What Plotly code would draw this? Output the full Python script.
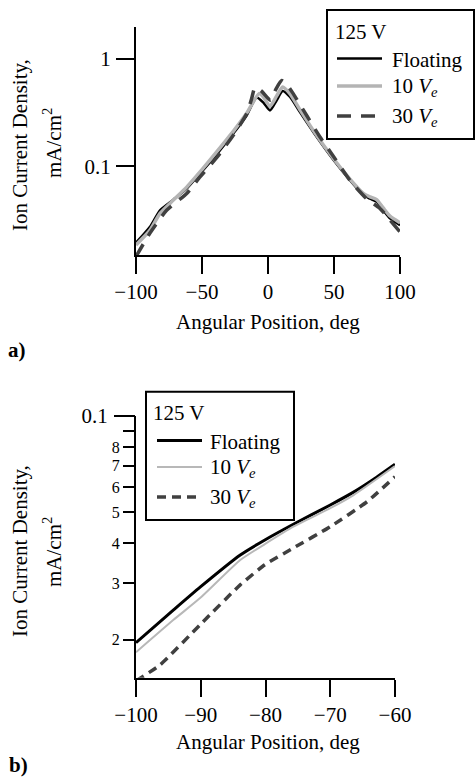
import plotly.graph_objects as go

# ---------------- data: panel a ----------------
a_float_deg = [-100, -89.4, -81.8, -71.7, -61.6, -51.5, -38.9, -26.3, -16.2, -8.6, -3.5, 1.5, 6.6, 11.1, 16.7, 24.2, 34.3, 49.5, 62.1, 72.2, 77.3, 82.3, 87.3, 92.4, 100]
a_float_val = [0.0195, 0.0274, 0.039, 0.049, 0.062, 0.0855, 0.129, 0.201, 0.296, 0.435, 0.39, 0.33, 0.41, 0.50, 0.44, 0.318, 0.208, 0.115, 0.0742, 0.054, 0.050, 0.0467, 0.039, 0.0328, 0.0284]

a_10_deg = [-100, -89.4, -81.8, -71.7, -61.6, -51.5, -38.9, -26.3, -16.2, -6.6, -3.5, 1.5, 6.6, 11.1, 16.7, 24.2, 34.3, 49.5, 62.1, 72.2, 77.3, 82.3, 87.3, 92.4, 100]
a_10_val = [0.0186, 0.0255, 0.0365, 0.0485, 0.064, 0.0885, 0.136, 0.211, 0.31, 0.475, 0.44, 0.36, 0.45, 0.545, 0.47, 0.335, 0.215, 0.118, 0.076, 0.056, 0.052, 0.049, 0.041, 0.0345, 0.0299]

a_30_deg = [-100, -89.4, -76.8, -61.6, -51.5, -38.9, -26.3, -16.2, -12.5, -9.8, -5.0, 2.0, 6.0, 10.4, 14.0, 19.2, 29.3, 39.4, 49.5, 62.1, 74.7, 84.8, 92.4, 100]
a_30_val = [0.0145, 0.024, 0.039, 0.0558, 0.0796, 0.12, 0.194, 0.307, 0.42, 0.54, 0.50, 0.41, 0.52, 0.625, 0.58, 0.47, 0.296, 0.187, 0.124, 0.074, 0.050, 0.0406, 0.0316, 0.0246]

# ---------------- data: panel b ----------------
b_float_deg = [-100, -94.2, -90.1, -83.9, -80.1, -75.7, -70, -66.4, -63.3, -60]
b_float_val = [0.0196, 0.0248, 0.0292, 0.0368, 0.041, 0.0459, 0.0527, 0.0578, 0.0634, 0.0706]

b_10_deg = [-100, -94.2, -90.1, -83.9, -80.1, -75.7, -70, -66.4, -60]
b_10_val = [0.0183, 0.0231, 0.027, 0.0355, 0.0398, 0.0451, 0.0515, 0.0566, 0.0697]

b_30_deg = [-100, -96.3, -90.1, -83.9, -80.1, -75.7, -70, -64.3, -60]
b_30_val = [0.0149, 0.0167, 0.0223, 0.0297, 0.0343, 0.0387, 0.0451, 0.054, 0.0646]

a_xticks = [-100, -50, 0, 50, 100]
a_xticktext = ["\u2212100", "\u221250", "0", "50", "100"]
a_yticks = [0.1, 1]
a_yticktext = ["0.1", "1"]
b_xticks = [-100, -90, -80, -70, -60]
b_xticktext = ["\u2212100", "\u221290", "\u221280", "\u221270", "\u221260"]
b_yticks = [0.02, 0.03, 0.04, 0.05, 0.06, 0.07, 0.08, 0.09]
b_yticktext = ["2", "3", "4", "5", "6", "7", "8", ""]
b_ytick_major = [0.1]
b_ytick_major_text = ["0.1"]
names = ["Floating", "10 <i>V<sub>e</sub></i>", "30 <i>V<sub>e</sub></i>"]
legend_title = "125 V"

FONT = "Liberation Serif"
W, H = 475, 782

A_STYLE = [dict(color="black", width=2.5),
           dict(color="#b4b4b4", width=3.5),
           dict(color="#404040", width=3.5, dash="14px,10px")]
B_STYLE = [dict(color="black", width=3),
           dict(color="#b8b8b8", width=2),
           dict(color="#404040", width=3.5, dash="9px,6px")]

fig = go.Figure()

for xs, ys, nm, st in zip([a_float_deg, a_10_deg, a_30_deg], [a_float_val, a_10_val, a_30_val], names, A_STYLE):
    fig.add_trace(go.Scatter(x=xs, y=ys, name=nm, mode="lines",
                             line=dict(shape="spline", smoothing=0.6, **st),
                             xaxis="x", yaxis="y", showlegend=False))
for xs, ys, nm, st in zip([b_float_deg, b_10_deg, b_30_deg], [b_float_val, b_10_val, b_30_val], names, B_STYLE):
    fig.add_trace(go.Scatter(x=xs, y=ys, name=nm, mode="lines",
                             line=dict(shape="spline", smoothing=0.5, **st),
                             xaxis="x2", yaxis="y2", showlegend=False))
# empty trace so the overlaid axis carrying the 0.1 tick is drawn
fig.add_trace(go.Scatter(x=[], y=[], mode="lines", xaxis="x2", yaxis="y3",
                         showlegend=False, hoverinfo="skip"))

def px_x(p):
    return p / W

def px_y(p):
    return 1 - p / H

def tf(size=21):
    return dict(family=FONT, size=size, color="black")

axis_common = dict(showline=True, linecolor="black", linewidth=2, ticks="outside",
                   tickcolor="black", tickwidth=2, showgrid=False, zeroline=False,
                   automargin=False)

B_YRANGE = [-1.817, -0.9995]

fig.update_layout(
    width=W, height=H, margin=dict(l=0, r=0, t=0, b=0, autoexpand=False),
    paper_bgcolor="white", plot_bgcolor="white",
    font=tf(), showlegend=False,
    xaxis=dict(domain=[px_x(136), px_x(400)], range=[-100, 100], tickvals=a_xticks,
               ticktext=a_xticktext, ticklen=17, anchor="y", tickfont=tf(), **axis_common),
    yaxis=dict(domain=[px_y(255), px_y(27)], type="log", range=[-1.824, 0.293],
               tickvals=a_yticks, ticktext=a_yticktext, ticklen=18, ticklabelstandoff=1,
               anchor="x", tickfont=tf(), **axis_common),
    xaxis2=dict(domain=[px_x(136), px_x(395)], range=[-100, -60], tickvals=b_xticks,
                ticktext=b_xticktext, ticklen=17, anchor="y2", tickfont=tf(), **axis_common),
    yaxis2=dict(domain=[px_y(677.7), px_y(415.7)], type="log", range=B_YRANGE,
                tickvals=b_yticks, ticktext=b_yticktext, ticklen=11, anchor="x2",
                tickfont=tf(16), **axis_common),
    yaxis3=dict(domain=[px_y(677.7), px_y(415.7)], type="log", range=B_YRANGE,
                overlaying="y2", anchor="x2", side="left", tickvals=b_ytick_major,
                ticktext=b_ytick_major_text, ticklen=21, ticklabelstandoff=2, ticks="outside",
                tickcolor="black", tickwidth=2, showticklabels=True,
                showline=False, showgrid=False, zeroline=False, automargin=False, tickfont=tf()),
)

ann = []
shapes = []

def add_text(text, x, y, angle=0, size=21, bold=False, xanchor="center"):
    ann.append(dict(text=("<b>%s</b>" % text) if bold else text, x=px_x(x), y=px_y(y),
                    xref="paper", yref="paper", showarrow=False, textangle=angle,
                    xanchor=xanchor, yanchor="middle", font=tf(size)))

def add_legend(x0, y0, x1, y1, title_xy, rows_y, line_x, text_x, styles):
    shapes.append(dict(type="rect", xref="paper", yref="paper",
                       x0=px_x(x0), x1=px_x(x1), y0=px_y(y0), y1=px_y(y1),
                       line=dict(color="black", width=2), fillcolor="white", layer="above"))
    add_text(legend_title, title_xy[0], title_xy[1], xanchor="left")
    for nm, st, ry in zip(names, styles, rows_y):
        shapes.append(dict(type="line", xref="paper", yref="paper",
                           x0=px_x(line_x[0]), x1=px_x(line_x[1]), y0=px_y(ry), y1=px_y(ry),
                           line=st, layer="above"))
        add_text(nm, text_x, ry + 1, xanchor="left")

add_legend(327, 10, 474, 139, (333, 32), [58.5, 86, 116], (337, 382), 390, A_STYLE)
add_legend(146, 391.7, 294, 520, (151, 413), [440.5, 467, 497], (157, 202), 208, B_STYLE)

add_text("Ion Current Density,", 20, 145, -90)
add_text("mA/cm<sup>2</sup>", 52, 143, -90)
add_text("Angular Position, deg", 267.5, 321.7)
add_text("a)", 17, 350, bold=True)
add_text("Ion Current Density,", 20, 551, -90)
add_text("mA/cm<sup>2</sup>", 52, 552, -90)
add_text("Angular Position, deg", 267.5, 741.7)
add_text("b)", 18, 765, bold=True)
fig.update_layout(annotations=ann, shapes=shapes)

fig.write_html("out.html")
